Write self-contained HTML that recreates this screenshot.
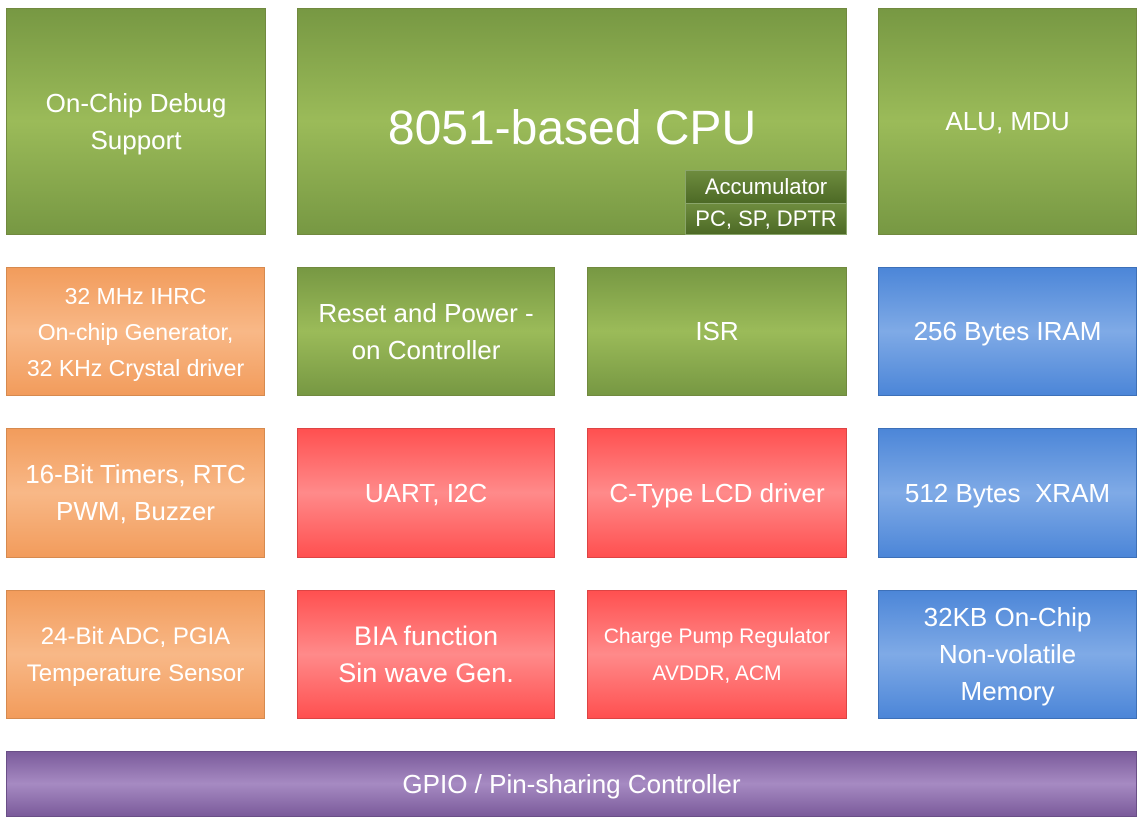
<!DOCTYPE html>
<html><head><style>
body{margin:0;width:1143px;height:821px;background:#fff;position:relative;overflow:hidden;font-family:"Liberation Sans","DejaVu Sans",sans-serif;}
.b{position:absolute;display:flex;align-items:center;justify-content:center;text-align:center;color:#fff;font-size:25px;line-height:37px;box-sizing:border-box;}
.g{background:linear-gradient(#779843,#9bbb59 50%,#779843);border:1px solid #71893f;}
.o{background:linear-gradient(#f29c5c,#f8b887 50%,#f29c5c);border:1px solid #d68a4f;}
.r{background:linear-gradient(#ff5050,#ff8a8a 50%,#ff5050);border:1px solid #d44;}
.bl{background:linear-gradient(#4c86d8,#7faae6 50%,#4c86d8);border:1px solid #3d70b8;}
.p{background:linear-gradient(#7b5b9b,#a68ac2 50%,#7b5b9b);border:1px solid #6a4f87;}
.s{background:linear-gradient(#6e8c3e,#4d6a26);border:1px solid #8aa56a;font-size:22px;line-height:28px;}
</style></head><body>
<div class="b g" style="left:6px;top:8px;width:260px;height:227px;font-size:26px">On-Chip Debug<br>Support</div>
<div class="b g" style="left:297px;top:8px;width:550px;height:227px;align-items:flex-start;padding-top:92px;font-size:48px;line-height:56px">8051-based CPU</div>
<div class="b s" style="left:685px;top:170px;width:162px;height:34px">Accumulator</div>
<div class="b s" style="left:685px;top:203px;width:162px;height:32px">PC, SP, DPTR</div>
<div class="b g" style="left:878px;top:8px;width:259px;height:227px;font-size:26px">ALU, MDU</div>

<div class="b o" style="left:6px;top:267px;width:259px;height:129px;font-size:23px;line-height:36px">32 MHz IHRC<br>On-chip Generator,<br>32 KHz Crystal driver</div>
<div class="b g" style="left:297px;top:267px;width:258px;height:129px;font-size:26px">Reset and Power -<br>on Controller</div>
<div class="b g" style="left:587px;top:267px;width:260px;height:129px;font-size:26px">ISR</div>
<div class="b bl" style="left:878px;top:267px;width:259px;height:129px;font-size:26px">256 Bytes IRAM</div>

<div class="b o" style="left:6px;top:428px;width:259px;height:130px;font-size:26px">16-Bit Timers, RTC<br>PWM, Buzzer</div>
<div class="b r" style="left:297px;top:428px;width:258px;height:130px;font-size:26px">UART, I2C</div>
<div class="b r" style="left:587px;top:428px;width:260px;height:130px;font-size:26px">C-Type LCD driver</div>
<div class="b bl" style="left:878px;top:428px;width:259px;height:130px;font-size:26px">512 Bytes&nbsp; XRAM</div>

<div class="b o" style="left:6px;top:590px;width:259px;height:129px;font-size:24px">24-Bit ADC, PGIA<br>Temperature Sensor</div>
<div class="b r" style="left:297px;top:590px;width:258px;height:129px;font-size:27px">BIA function<br>Sin wave Gen.</div>
<div class="b r" style="left:587px;top:590px;width:260px;height:129px;font-size:21px">Charge Pump Regulator<br>AVDDR, ACM</div>
<div class="b bl" style="left:878px;top:590px;width:259px;height:129px;font-size:26px">32KB On-Chip<br>Non-volatile<br>Memory</div>

<div class="b p" style="left:6px;top:751px;width:1131px;height:66px;font-size:26px">GPIO / Pin-sharing Controller</div>
</body></html>
